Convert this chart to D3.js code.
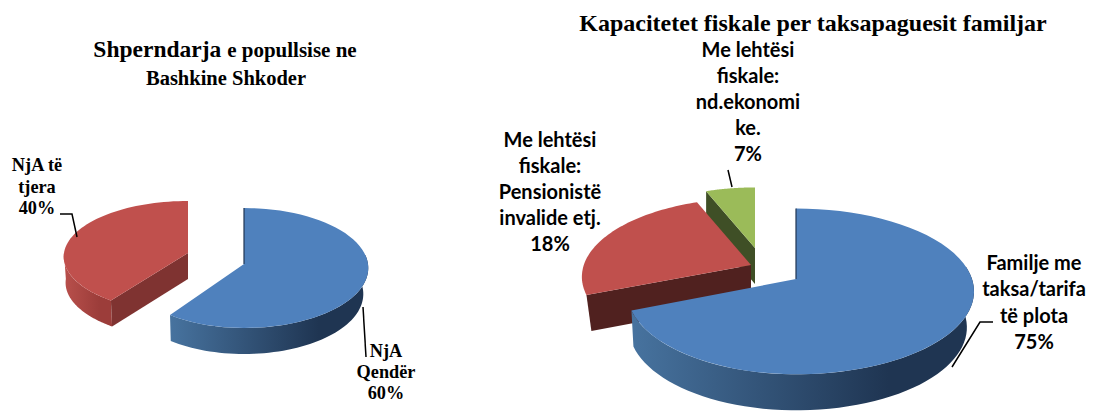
<!DOCTYPE html>
<html>
<head>
<meta charset="utf-8">
<script src="https://cdn.jsdelivr.net/npm/d3@7"></script>
<style>
  html, body { margin: 0; padding: 0; background: #fff; }
  svg { display: block; }
  .serif { font-family: "Liberation Serif", serif; font-weight: bold; fill: #000; }
  .sans { font-family: Lato, "Open Sans", sans-serif; font-weight: bold; fill: #000; }
</style>
</head>
<body>
<svg id="canvas" width="1093" height="414"></svg>
<script>
// left chart
let leftShares = [60, 40]
let leftLabels = [['NjA', 'Qendër', '60%'], ['NjA të', 'tjera', '40%']]

// right chart. the labels say 75/18/7 but the wedges in the picture are drawn
// at about 69/25/6, so the drawn shares are kept apart from the printed labels
let rightShares = [69, 25, 6]
let rightLabels = [
  ['Familje me', 'taksa/tarifa', 'të plota', '75%'],
  ['Me lehtësi', 'fiskale:', 'Pensionistë', 'invalide etj.', '18%'],
  ['Me lehtësi', 'fiskale:', 'nd.ekonomi', 'ke.', '7%']
]

let canvas = d3.select('#canvas')
let defs = canvas.append('defs')

let colors = [
  { top: '#4f81bd', wall: ['#47739f', '#1f3552'], cut: '#1f3552' },
  { top: '#c0504d', wall: ['#b9504c', '#9c3d3a'], cut: '#7f3331' },
  { top: '#9bbb59', wall: ['#9bbb59', '#8fae50'], cut: '#3f4f26' }
]

let addGradient = (id, x0, x1, stops) => {
  let g = defs.append('linearGradient').attr('id', id)
    .attr('gradientUnits', 'userSpaceOnUse')
    .attr('x1', x0).attr('x2', x1).attr('y1', 0).attr('y2', 0)
  g.append('stop').attr('offset', 0).attr('stop-color', stops[0])
  g.append('stop').attr('offset', 0.75).attr('stop-color', stops[1])
}

let line = d3.line()

// one exploded 3d pie: each wedge has its own centre, size and dark cut colour
let drawPie = (id, shares, layout) => {
  let arcs = d3.pie().sort(null).value((d) => d)(shares)

  let order = d3.range(arcs.length).reverse()
  order.forEach((i) => {
    let a = arcs[i]
    let w = layout.wedges[i]
    let sx = w.sx || 1
    let sy = w.sy || 1
    let lk = w.lk || 1
    let taperL = w.taperL || 0

    let project = (angle, r, drop) => {
      let X = Math.sin(angle) * r
      let Y = -Math.cos(angle) * r
      let s = 1 / (1 - layout.persp * Y)
      // the lower rim sits further from the camera so it pulls in a little
      let pull = drop ? (X > 0 ? layout.taper : taperL) : 0
      return [
        w.cx + layout.rx * sx * X * s * (X < 0 ? lk : 1) * (1 - pull),
        w.cy + layout.ry * sy * Y * s + (drop || 0)
      ]
    }
    let rim = (from, to, drop) => d3.range(0, 61).map((n) => {
      return project(from + (to - from) * n / 60, 1, drop)
    })

    let g = canvas.append('g').attr('class', 'slice')

    // outer wall, only the part that faces us
    let from = Math.max(a.startAngle, Math.PI * 0.45)
    let to = Math.min(a.endAngle, Math.PI * 1.5)
    if (to > from && !w.noWall) {
      let upper = rim(from, to, 0)
      let lower = rim(from, to, layout.depth).reverse()
      let xs = upper.map((p) => p[0])
      let gid = id + '-wall-' + i
      addGradient(gid, d3.min(xs), d3.max(xs), colors[i].wall)
      g.append('path').attr('d', line(upper.concat(lower)) + 'Z').attr('fill', 'url(#' + gid + ')')
    }

    // cut face of the leading edge
    if (i > 0) {
      let c0 = project(a.startAngle, 0, 0)
      let c1 = project(a.startAngle, 1, 0)
      let c2 = project(a.startAngle, 1, layout.depth)
      let c3 = project(a.startAngle, 0, layout.depth)
      g.append('path').attr('d', line([c0, c1, c2, c3]) + 'Z').attr('fill', w.cut || colors[i].cut)
    }

    // top face
    let face = [project(a.startAngle, 0, 0)].concat(rim(a.startAngle, a.endAngle, 0))
    g.append('path').attr('d', line(face) + 'Z').attr('fill', colors[i].top)

    // thin dark sliver on the first wedge
    if (i === 0) {
      g.append('path')
        .attr('d', line([project(0, 1, 0), project(0, 0, 0)]))
        .attr('stroke', colors[0].cut).attr('stroke-width', 1.2).attr('fill', 'none')
    }
  })
}

let drawLabel = (lines, x, y, lh, size, cls) => {
  let t = canvas.append('text').attr('class', cls)
    .attr('text-anchor', 'middle').style('font-size', size + 'px')
  lines.forEach((s, n) => {
    t.append('tspan').attr('x', x).attr('y', y + n * lh).text(s)
  })
}

let drawLeader = (pts) => {
  canvas.append('path').attr('d', line(pts))
    .attr('fill', 'none').attr('stroke', '#000').attr('stroke-width', 1.5)
}

drawPie('left', leftShares, {
  rx: 124, ry: 59.7, persp: 0.067, depth: 26, taper: 0.04,
  wedges: [{ cx: 244, cy: 264, lk: 0.96, taperL: 0.01 }, { cx: 188, cy: 253, sy: 0.93, taperL: 0.015 }]
})

drawPie('right', rightShares, {
  rx: 176, ry: 81, persp: 0.15, depth: 36, taper: 0.04,
  wedges: [
    { cx: 796, cy: 279, lk: 0.95, taperL: 0.012 },
    { cx: 751, cy: 265, sx: 0.95, sy: 0.95, cut: '#50211f', noWall: true, taperL: 0.03 },
    { cx: 755, cy: 248, sx: 0.86, sy: 0.86 }
  ]
})

// titles
let leftTitle = canvas.append('text').attr('class', 'serif').attr('text-anchor', 'middle')
  .attr('x', 225).attr('y', 57)
leftTitle.append('tspan').style('font-size', '23.5px').text('Shperndarja ')
leftTitle.append('tspan').style('font-size', '21px').text('e popullsise ne')
canvas.append('text').attr('class', 'serif').attr('text-anchor', 'middle')
  .attr('x', 226).attr('y', 85).style('font-size', '20.5px').text('Bashkine Shkoder')
canvas.append('text').attr('class', 'serif').attr('text-anchor', 'middle')
  .attr('x', 813).attr('y', 31).style('font-size', '24px')
  .text('Kapacitetet fiskale per taksapaguesit familjar')

// labels and leader lines
drawLabel(leftLabels[1], 37, 171, 21.5, 18.3, 'serif')
drawLabel(leftLabels[0], 386, 357, 21, 18.3, 'serif')
drawLabel(rightLabels[0], 1034, 270, 26.3, 20, 'sans')
drawLabel(rightLabels[1], 550, 147, 26, 20, 'sans')
drawLabel(rightLabels[2], 748, 57, 26, 20, 'sans')

drawLeader([[60, 214], [72, 214], [77, 237]])
drawLeader([[363, 307], [366, 357]])
drawLeader([[993, 322], [980, 322], [952, 367]])
drawLeader([[728, 170], [732, 187]])
</script>
</body>
</html>
